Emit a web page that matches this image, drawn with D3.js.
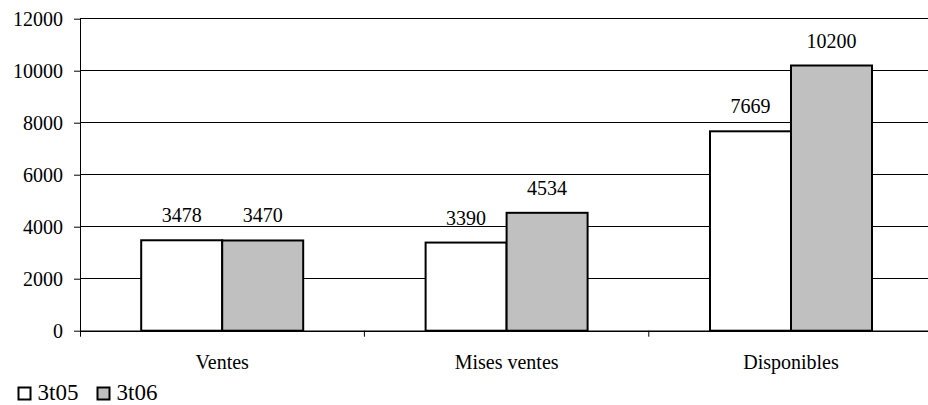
<!DOCTYPE html>
<html><head><meta charset="utf-8">
<script src="https://cdn.jsdelivr.net/npm/d3@7"></script>
<style>body{margin:0;background:#fff;}</style>
</head><body>
<svg id="c" width="928" height="405"></svg>
<script>
const categories = ["Ventes", "Mises ventes", "Disponibles"];
const seriesNames = ["3t05", "3t06"];
const values3t05 = [3478, 3390, 7669];
const values3t06 = [3470, 4534, 10200];
const yTicks = [0, 2000, 4000, 6000, 8000, 10000, 12000];
const colors = ["#ffffff", "#c0c0c0"];
const FONT = "Liberation Serif";

const svg = d3.select("#c");
const m = {left: 80, top: 18.7, bottom: 330.7};
const bandW = 284.4;
const x = d3.scaleBand().domain(categories).range([m.left, m.left + bandW * 3]).paddingInner(0).paddingOuter(0);
const y = d3.scaleLinear().domain([0, 12000]).range([m.bottom, m.top]);
const inner = d3.scaleBand().domain(seriesNames).range([0, bandW]).paddingInner(0).paddingOuter(0.7556);

// gridlines
svg.append("g").selectAll("line").data(yTicks.filter(d => d > 0)).join("line")
  .attr("x1", m.left).attr("x2", 928).attr("y1", d => y(d)).attr("y2", d => y(d))
  .attr("stroke", "#000").attr("stroke-width", 1).attr("shape-rendering", "crispEdges");

// y axis
const yAxis = svg.append("g").attr("transform", `translate(${m.left},0)`)
  .call(d3.axisLeft(y).tickValues(yTicks).tickSize(6).tickSizeOuter(0).tickPadding(11).tickFormat(d3.format("d")));
yAxis.select(".domain").attr("stroke", "#000").attr("d", `M0.5,${m.top}V${m.bottom + 6}`);
yAxis.selectAll(".tick line").attr("stroke", "#000");
yAxis.selectAll("text").style("font-family", FONT).style("font-size", "20px").style("fill", "#000");

// x axis
const xAxis = svg.append("g").attr("transform", `translate(0,${m.bottom})`)
  .call(d3.axisBottom(x).tickSize(0).tickSizeOuter(0).tickPadding(24));
xAxis.select(".domain").attr("stroke", "#000").attr("stroke-width", 1.5);
xAxis.selectAll("text").style("font-family", FONT).style("font-size", "20px").style("fill", "#000");
// category separator ticks
svg.append("g").selectAll("line").data(categories.slice(1)).join("line")
  .attr("x1", d => x(d)).attr("x2", d => x(d)).attr("y1", m.bottom).attr("y2", m.bottom + 6)
  .attr("stroke", "#000");

const data = categories.map((c, i) => ({cat: c, vals: [values3t05[i], values3t06[i]]}));
const groups = svg.append("g").selectAll("g").data(data).join("g")
  .attr("transform", d => `translate(${x(d.cat)},0)`);
groups.selectAll("rect").data(d => d.vals.map((v, j) => ({v, s: seriesNames[j], j}))).join("rect")
  .attr("x", d => inner(d.s)).attr("width", inner.bandwidth())
  .attr("y", d => y(d.v)).attr("height", d => y(0) - y(d.v))
  .attr("fill", d => colors[d.j]).attr("stroke", "#000").attr("stroke-width", 2);
groups.selectAll("text.lbl").data(d => d.vals.map((v, j) => ({v, s: seriesNames[j]}))).join("text")
  .attr("class", "lbl")
  .attr("x", d => inner(d.s) + inner.bandwidth() / 2).attr("y", d => y(d.v) - 18)
  .attr("text-anchor", "middle")
  .style("font-family", FONT).style("font-size", "20px").style("fill", "#000")
  .text(d => d.v);

// legend
const legendX = [18.5, 97.5];
seriesNames.forEach((s, i) => {
  const g = svg.append("g").attr("transform", `translate(${legendX[i]},387.5)`);
  g.append("rect").attr("x", 0).attr("y", 0).attr("width", 12).attr("height", 12)
    .attr("fill", colors[i]).attr("stroke", "#000").attr("stroke-width", 2);
  g.append("text").attr("x", 19).attr("y", 12)
    .style("font-family", FONT).style("font-size", "23px").style("fill", "#000").text(s);
});
</script>
</body></html>
